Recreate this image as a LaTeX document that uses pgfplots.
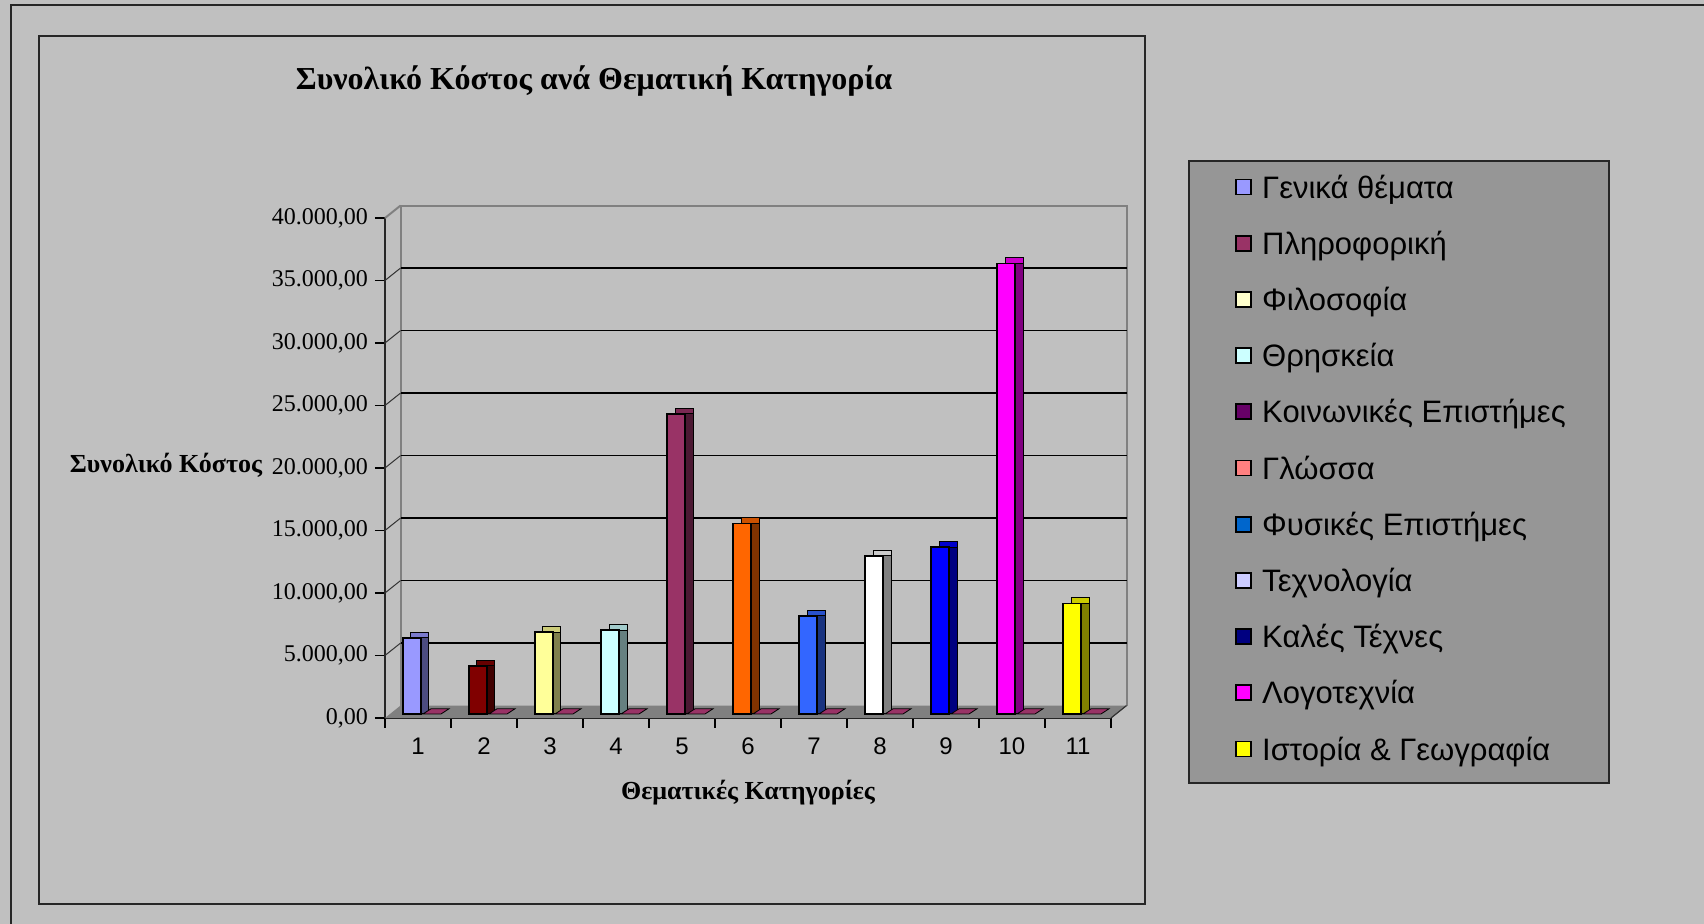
\documentclass[border=0pt]{standalone}
\usepackage{pgfplots}
\pgfplotsset{compat=1.18}
\usepackage{fontspec}
\setmainfont{Liberation Serif}
\newfontfamily\sansgr{Liberation Sans}

\definecolor{bg}{HTML}{C0C0C0}
\definecolor{legbg}{HTML}{969696}
\definecolor{wall}{HTML}{808080}
\definecolor{floorc}{HTML}{808080}
\definecolor{zerob}{HTML}{993366}
% bar colours: front / side / top
\definecolor{f1}{HTML}{9999FF}\definecolor{s1}{HTML}{4C4C80}\definecolor{t1}{HTML}{7A7ACC}
\definecolor{f2}{HTML}{800000}\definecolor{s2}{HTML}{400000}\definecolor{t2}{HTML}{660000}
\definecolor{f3}{HTML}{FFFF99}\definecolor{s3}{HTML}{80804C}\definecolor{t3}{HTML}{CCCC7A}
\definecolor{f4}{HTML}{CCFFFF}\definecolor{s4}{HTML}{668080}\definecolor{t4}{HTML}{A3CCCC}
\definecolor{f5}{HTML}{993366}\definecolor{s5}{HTML}{4C1933}\definecolor{t5}{HTML}{7A2952}
\definecolor{f6}{HTML}{FF6600}\definecolor{s6}{HTML}{803300}\definecolor{t6}{HTML}{CC5200}
\definecolor{f7}{HTML}{3366FF}\definecolor{s7}{HTML}{193380}\definecolor{t7}{HTML}{2952CC}
\definecolor{f8}{HTML}{FFFFFF}\definecolor{s8}{HTML}{808080}\definecolor{t8}{HTML}{CCCCCC}
\definecolor{f9}{HTML}{0000FF}\definecolor{s9}{HTML}{000080}\definecolor{t9}{HTML}{0000CC}
\definecolor{f10}{HTML}{FF00FF}\definecolor{s10}{HTML}{800080}\definecolor{t10}{HTML}{CC00CC}
\definecolor{f11}{HTML}{FFFF00}\definecolor{s11}{HTML}{808000}\definecolor{t11}{HTML}{CCCC00}
% legend colours
\definecolor{l1}{HTML}{9999FF}
\definecolor{l2}{HTML}{993366}
\definecolor{l3}{HTML}{FFFFCC}
\definecolor{l4}{HTML}{CCFFFF}
\definecolor{l5}{HTML}{660066}
\definecolor{l6}{HTML}{FF8080}
\definecolor{l7}{HTML}{0066CC}
\definecolor{l8}{HTML}{CCCCFF}
\definecolor{l9}{HTML}{000080}
\definecolor{l10}{HTML}{FF00FF}
\definecolor{l11}{HTML}{FFFF00}

% flat (zero-height) second-series bar, drawn as a mark at (i,0)
\pgfdeclareplotmark{flatbar}{%
  \pgfpathmoveto{\pgfpoint{2.5pt}{2pt}}%
  \pgfpathlineto{\pgfpoint{11.5pt}{2pt}}%
  \pgfpathlineto{\pgfpoint{15.5pt}{4.6pt}}%
  \pgfpathlineto{\pgfpoint{6.5pt}{4.6pt}}%
  \pgfpathclose
  \pgfusepathqfillstroke
}

% one pseudo-3D column: #1 category, #2 value, #3 front, #4 side, #5 top
\newcommand{\cbar}[5]{%
  \addplot[ybar, bar width=9pt, bar shift=1pt, yshift=4.8pt, fill=#5, draw=black, line width=0.5pt, forget plot] coordinates {(#1,#2)};
  \addplot[ybar, bar width=9pt, bar shift=1pt, yshift=2pt, fill=#4, draw=black, line width=0.5pt, forget plot] coordinates {(#1,#2)};
  \addplot[ybar, bar width=9pt, bar shift=-3pt, yshift=2pt, fill=#3, draw=black, line width=0.8pt, forget plot] coordinates {(#1,#2)};
}

\begin{document}
\begin{tikzpicture}
\fill[bg] (0,0) rectangle (852pt,462pt);
\draw[line width=1pt, black!85] (5.5pt,0pt) -- (5.5pt,459.5pt) -- (852pt,459.5pt);
\draw[line width=0.9pt, black!85] (19.5pt,10pt) rectangle (572.5pt,444pt);
\draw[line width=0.8pt, black!85, fill=legbg] (594.5pt,70.5pt) rectangle (804.5pt,381.5pt);

\begin{axis}[
  at={(192.5pt,103pt)}, anchor=south west,
  scale only axis, width=363pt, height=250pt,
  xmin=0.5, xmax=11.5, ymin=0, ymax=40000,
  clip=false,
  separate axis lines,
  axis x line*=bottom, axis y line*=left,
  axis line style={-, black!85, line width=0.6pt},
  tick align=outside,
  /pgf/number format/assume math mode=true,
  xtick={1,...,11},
  minor xtick={0.5,1.5,...,11.5},
  major x tick style={draw=none},
  minor tick length=5pt, major tick length=5pt,
  tick style={black, line width=0.6pt},
  ytick={0,5000,...,40000},
  scaled y ticks=false,
  xticklabel style={font=\sansgr\fontsize{12}{12}\selectfont, yshift=-1.5pt},
  yticklabel style={font=\fontsize{12}{12}\selectfont,
     /pgf/number format/.cd, fixed, fixed zerofill, precision=2, use comma, 1000 sep={.}, assume math mode=true},
  title={Συνολικό Κόστος ανά Θεματική Κατηγορία},
  title style={at={(axis description cs:0.288,1.25)}, anchor=center, font=\bfseries\fontsize{16}{16}\selectfont},
  xlabel={Θεματικές Κατηγορίες},
  xlabel style={at={(axis description cs:0.5,-0.15)}, anchor=center, font=\bfseries\fontsize{13}{13}\selectfont},
  ylabel={Συνολικό Κόστος},
  ylabel style={at={(axis description cs:-0.3017,0.506)}, rotate=-90, anchor=center, font=\bfseries\fontsize{13}{13}\selectfont},
  legend image code/.code={\draw[#1, draw=black, line width=0.9pt] (0pt,-1.9pt) rectangle (7.5pt,5.6pt);},
  legend cell align=left,
  legend style={at={(617.5pt-192.5pt,374.1pt-103pt)}, anchor=north west,
     draw=none, fill=none, inner sep=0pt,
     font=\sansgr\fontsize{15.5}{15.5}\selectfont,
     nodes={inner sep=0pt, text height=11pt, text depth=3.5pt},
     row sep=13.6pt,
     /tikz/every odd column/.append style={column sep=5pt}},
]
% floor
\addplot[fill=floorc, draw=none, forget plot] coordinates {(0.5,0) (11.5,0) (11.735,992) (0.735,992)} -- cycle;
% back wall and side wall edges
\addplot[wall, line width=1pt, forget plot] coordinates {(0.735,992) (0.735,40992) (11.735,40992) (11.735,992)};
\addplot[wall, line width=1pt, forget plot] coordinates {(0.5,40000) (0.735,40992)};
\addplot[black!80, line width=0.6pt, forget plot] coordinates {(11.5,0) (11.735,992)};
% back-wall gridlines and side-wall connectors
\addplot[black, line width=0.6pt, unbounded coords=jump, forget plot] coordinates {
 (0.735,5992) (11.735,5992) (1,nan)
 (0.735,10992) (11.735,10992) (1,nan)
 (0.735,15992) (11.735,15992) (1,nan)
 (0.735,20992) (11.735,20992) (1,nan)
 (0.735,25992) (11.735,25992) (1,nan)
 (0.735,30992) (11.735,30992) (1,nan)
 (0.735,35992) (11.735,35992)};
\addplot[black!80, line width=0.5pt, unbounded coords=jump, forget plot] coordinates {
 (0.5,5000) (0.735,5992) (1,nan)
 (0.5,10000) (0.735,10992) (1,nan)
 (0.5,15000) (0.735,15992) (1,nan)
 (0.5,20000) (0.735,20992) (1,nan)
 (0.5,25000) (0.735,25992) (1,nan)
 (0.5,30000) (0.735,30992) (1,nan)
 (0.5,35000) (0.735,35992)};
% second series (all zero): flat bars
\addplot[only marks, mark=flatbar, mark options={fill=zerob, draw=black, line width=0.4pt}, forget plot]
 coordinates {(1,0) (2,0) (3,0) (4,0) (5,0) (6,0) (7,0) (8,0) (9,0) (10,0) (11,0)};
% columns
\cbar{1}{6100}{f1}{s1}{t1}
\cbar{2}{3850}{f2}{s2}{t2}
\cbar{3}{6550}{f3}{s3}{t3}
\cbar{4}{6700}{f4}{s4}{t4}
\cbar{5}{24000}{f5}{s5}{t5}
\cbar{6}{15250}{f6}{s6}{t6}
\cbar{7}{7850}{f7}{s7}{t7}
\cbar{8}{12650}{f8}{s8}{t8}
\cbar{9}{13350}{f9}{s9}{t9}
\cbar{10}{36050}{f10}{s10}{t10}
\cbar{11}{8850}{f11}{s11}{t11}
% legend
\addlegendimage{fill=l1}\addlegendentry{Γενικά θέματα}
\addlegendimage{fill=l2}\addlegendentry{Πληροφορική}
\addlegendimage{fill=l3}\addlegendentry{Φιλοσοφία}
\addlegendimage{fill=l4}\addlegendentry{Θρησκεία}
\addlegendimage{fill=l5}\addlegendentry{Κοινωνικές Επιστήμες}
\addlegendimage{fill=l6}\addlegendentry{Γλώσσα}
\addlegendimage{fill=l7}\addlegendentry{Φυσικές Επιστήμες}
\addlegendimage{fill=l8}\addlegendentry{Τεχνολογία}
\addlegendimage{fill=l9}\addlegendentry{Καλές Τέχνες}
\addlegendimage{fill=l10}\addlegendentry{Λογοτεχνία}
\addlegendimage{fill=l11}\addlegendentry{Ιστορία \& Γεωγραφία}
\end{axis}
\pgfresetboundingbox
\path[use as bounding box] (0,0) rectangle (852pt,462pt);
\end{tikzpicture}
\end{document}
